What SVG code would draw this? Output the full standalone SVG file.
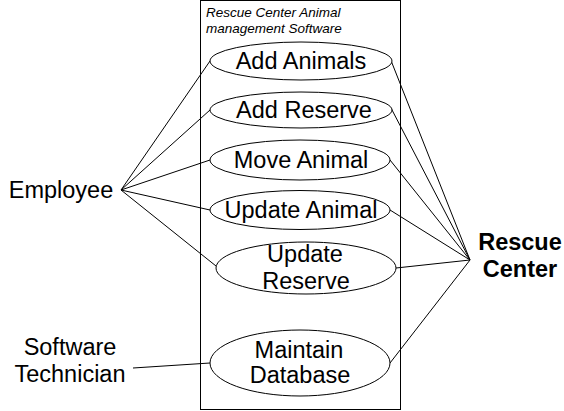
<svg xmlns="http://www.w3.org/2000/svg" width="564" height="411" viewBox="0 0 564 411">
<style>
.bg{fill:#fff}
.sys{fill:#fff;stroke:#000;stroke-width:1}
.uc{fill:#fff;stroke:#000;stroke-width:1}
.t{font-family:"Liberation Sans",Arial,sans-serif;font-size:23.5px;fill:#000;text-anchor:middle}
.b{font-weight:bold}
.title{font-family:"Liberation Sans",Arial,sans-serif;font-size:13.5px;font-style:italic;fill:#000}
.c line{stroke:#000;stroke-width:1}
</style>
<rect class="bg" x="0" y="0" width="564" height="411"/>
<g id="system">
<rect class="sys" x="200.5" y="0.5" width="200" height="409"/>
<text class="title" x="206" y="17">Rescue Center Animal</text>
<text class="title" x="206" y="33">management Software</text>
</g>
<g id="connectors" class="c">
<line x1="121" y1="190" x2="210" y2="61"/>
<line x1="121" y1="190" x2="210" y2="110"/>
<line x1="121" y1="190" x2="210" y2="160"/>
<line x1="121" y1="190" x2="210" y2="210"/>
<line x1="121" y1="190" x2="216" y2="266"/>
<line x1="133" y1="368" x2="210" y2="363"/>
<line x1="470" y1="260" x2="390" y2="58"/>
<line x1="470" y1="260" x2="391" y2="108"/>
<line x1="470" y1="260" x2="390" y2="160"/>
<line x1="470" y1="260" x2="390" y2="210"/>
<line x1="470" y1="260" x2="396" y2="268"/>
<line x1="470" y1="260" x2="390" y2="363"/>
</g>
<g id="uc-add-animals">
<ellipse class="uc" cx="301" cy="61" rx="91" ry="19"/>
<text class="t" x="301" y="69">Add Animals</text>
</g>
<g id="uc-add-reserve">
<ellipse class="uc" cx="301" cy="110" rx="91" ry="18"/>
<text class="t" x="304" y="118">Add Reserve</text>
</g>
<g id="uc-move-animal">
<ellipse class="uc" cx="300" cy="160" rx="90" ry="20"/>
<text class="t" x="301" y="168">Move Animal</text>
</g>
<g id="uc-update-animal">
<ellipse class="uc" cx="300" cy="210" rx="90" ry="19.5"/>
<text class="t" x="301" y="218">Update Animal</text>
</g>
<g id="uc-update-reserve">
<ellipse class="uc" cx="306" cy="268" rx="90" ry="26"/>
<text class="t" x="305" y="262">Update</text>
<text class="t" x="306" y="289">Reserve</text>
</g>
<g id="uc-maintain-database">
<ellipse class="uc" cx="300" cy="363" rx="90" ry="33"/>
<text class="t" x="299" y="358">Maintain</text>
<text class="t" x="300" y="383">Database</text>
</g>
<g id="actor-employee">
<text class="t" x="61" y="198">Employee</text>
</g>
<g id="actor-software-technician">
<text class="t" x="70" y="355">Software</text>
<text class="t" x="70" y="382">Technician</text>
</g>
<g id="actor-rescue-center">
<text class="t b" x="520" y="250">Rescue</text>
<text class="t b" x="520" y="277">Center</text>
</g>
</svg>
